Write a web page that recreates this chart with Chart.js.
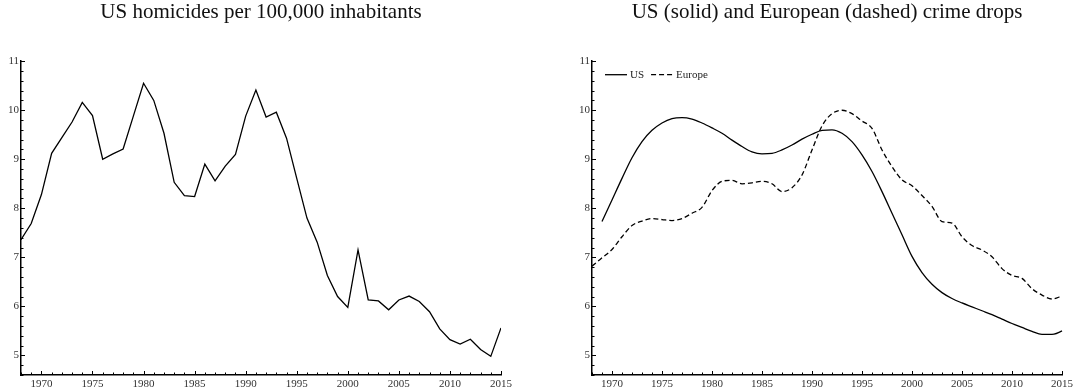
<!DOCTYPE html>
<html>
<head>
<meta charset="utf-8">
<title>US and European homicide trends</title>
<script src="https://cdn.jsdelivr.net/npm/chart.js@4.4.1/dist/chart.umd.min.js"></script>
<style>
  body { margin: 0; background: #fff; }
  #wrap { position: relative; width: 1092px; height: 392px; }
  canvas { position: absolute; top: 0; }
  #left { left: 0; }
  #right { left: 546px; }
</style>
</head>
<body>
<div id="wrap">
  <canvas id="left" width="546" height="392"></canvas>
  <canvas id="right" width="546" height="392"></canvas>
</div>
<script>
// yearly US homicide rate, 1968-2015
var homicideYears = [1968, 1969, 1970, 1971, 1972, 1973, 1974, 1975, 1976, 1977,
  1978, 1979, 1980, 1981, 1982, 1983, 1984, 1985, 1986, 1987,
  1988, 1989, 1990, 1991, 1992, 1993, 1994, 1995, 1996, 1997,
  1998, 1999, 2000, 2001, 2002, 2003, 2004, 2005, 2006, 2007,
  2008, 2009, 2010, 2011, 2012, 2013, 2014, 2015];
var homicideRate = [7.36, 7.69, 8.28, 9.12, 9.44, 9.76, 10.16, 9.89, 9.00, 9.11,
  9.21, 9.88, 10.55, 10.20, 9.53, 8.53, 8.26, 8.24, 8.90, 8.56,
  8.86, 9.10, 9.88, 10.41, 9.86, 9.96, 9.43, 8.61, 7.80, 7.31,
  6.63, 6.20, 5.98, 7.15, 6.13, 6.11, 5.93, 6.13, 6.21, 6.10,
  5.89, 5.54, 5.32, 5.23, 5.33, 5.12, 4.98, 5.56];

// smoothed trends
var usYears = [1969, 1970, 1971, 1972, 1973, 1974, 1975, 1976, 1977, 1978,
  1979, 1980, 1981, 1982, 1983, 1984, 1985, 1986, 1987, 1988,
  1989, 1990, 1991, 1992, 1993, 1994, 1995, 1996, 1997, 1998,
  1999, 2000, 2001, 2002, 2003, 2004, 2005, 2006, 2007, 2008,
  2009, 2010, 2011, 2012, 2013, 2014, 2015, 2016];
var usTrend = [7.73, 8.17, 8.61, 9.03, 9.36, 9.59, 9.74, 9.83, 9.85, 9.82,
  9.74, 9.64, 9.53, 9.39, 9.26, 9.15, 9.11, 9.12, 9.19, 9.29,
  9.41, 9.51, 9.59, 9.60, 9.53, 9.36, 9.09, 8.75, 8.34, 7.90,
  7.46, 7.02, 6.69, 6.45, 6.28, 6.16, 6.07, 5.99, 5.91, 5.83,
  5.74, 5.65, 5.57, 5.49, 5.43, 5.43, 5.50, 5.65];
var europeYears = homicideYears;
var europeTrend = [6.82, 6.99, 7.16, 7.42, 7.65, 7.74, 7.79, 7.77, 7.75, 7.79,
  7.90, 8.02, 8.36, 8.55, 8.57, 8.50, 8.52, 8.55, 8.50, 8.34,
  8.42, 8.68, 9.19, 9.68, 9.93, 10.00, 9.93, 9.78, 9.63, 9.19,
  8.85, 8.58, 8.46, 8.26, 8.04, 7.73, 7.70, 7.42, 7.24, 7.15,
  7.01, 6.77, 6.63, 6.57, 6.36, 6.23, 6.15, 6.21];

var titles = ['US homicides per 100,000 inhabitants', 'US (solid) and European (dashed) crime drops'];

var serif = "'Liberation Serif', 'Times New Roman', serif";

function points(xs, ys) {
  return xs.map(function(x, i) { return {x: x, y: ys[i]}; });
}

// short ticks pointing into the plot: every year and every 0.2
var inwardTicks = {
  id: 'inwardTicks',
  afterDraw: function(chart) {
    var ctx = chart.ctx, area = chart.chartArea;
    var x = chart.scales.x, y = chart.scales.y;
    ctx.save();
    ctx.strokeStyle = '#000';
    ctx.lineWidth = 1;
    ctx.beginPath();
    for (var yr = Math.ceil(x.min); yr <= x.max; yr++) {
      var px = Math.round(x.getPixelForValue(yr)) + 0.5;
      var len = yr % 5 === 0 ? 4 : 2.5;
      ctx.moveTo(px, area.bottom);
      ctx.lineTo(px, area.bottom - len);
    }
    for (var i = Math.ceil(y.min * 5); i <= Math.round(y.max * 5); i++) {
      var py = Math.round(y.getPixelForValue(i / 5)) + 0.5;
      var l = i % 5 === 0 ? 4 : 2.5;
      ctx.moveTo(area.left, py);
      ctx.lineTo(area.left + l, py);
    }
    ctx.stroke();
    ctx.restore();
  }
};

// line legend in the top-left corner of the plot
var lineLegend = {
  id: 'lineLegend',
  afterDraw: function(chart) {
    var ctx = chart.ctx, area = chart.chartArea;
    var x = area.left + 13, y = area.top + 13.5;
    ctx.save();
    ctx.font = '11px ' + serif;
    ctx.textBaseline = 'middle';
    chart.data.datasets.forEach(function(ds) {
      ctx.strokeStyle = ds.borderColor;
      ctx.lineWidth = ds.borderWidth;
      ctx.setLineDash(ds.borderDash || []);
      ctx.beginPath();
      ctx.moveTo(x, y);
      ctx.lineTo(x + 22, y);
      ctx.stroke();
      ctx.setLineDash([]);
      ctx.fillStyle = '#222';
      ctx.fillText(ds.label, x + 25, y);
      x += 25 + ctx.measureText(ds.label).width + 7;
    });
    ctx.restore();
  }
};

function makeOptions(title, padLeft, padRight) {
  return {
    responsive: false,
    animation: false,
    layout: { padding: { left: padLeft, right: padRight, top: 0, bottom: 0 } },
    plugins: {
      legend: { display: false },
      tooltip: { enabled: false },
      title: {
        display: true,
        text: title,
        fullSize: false,
        color: '#111',
        font: { family: serif, size: 21, weight: 'normal' },
        padding: { top: 0, bottom: 36 }
      }
    },
    scales: {
      x: {
        type: 'linear',
        min: 1968,
        max: 2015,
        grid: { display: true, drawOnChartArea: false, drawTicks: false },
        border: { display: true, color: '#000', width: 1.5 },
        ticks: {
          stepSize: 5,
          includeBounds: false,
          autoSkip: false,
          maxRotation: 0,
          padding: 3,
          color: '#333',
          font: { family: serif, size: 11 },
          callback: function(v) { return String(v); }
        },
        afterFit: function(scale) { scale.height = 17; }
      },
      y: {
        type: 'linear',
        min: 4.6,
        max: 11,
        grid: { display: true, drawOnChartArea: false, drawTicks: false },
        border: { display: true, color: '#000', width: 1.5 },
        ticks: {
          stepSize: 1,
          includeBounds: false,
          padding: 2,
          color: '#333',
          font: { family: serif, size: 11 }
        },
        afterFit: function(scale) { scale.width = 21; }
      }
    }
  };
}

new Chart(document.getElementById('left'), {
  type: 'line',
  data: {
    datasets: [{
      label: 'US',
      data: points(homicideYears, homicideRate),
      borderColor: '#000',
      borderWidth: 1.3,
      pointRadius: 0,
      tension: 0
    }]
  },
  options: makeOptions(titles[0], 0, 45),
  plugins: [inwardTicks]
});

new Chart(document.getElementById('right'), {
  type: 'line',
  data: {
    datasets: [{
      label: 'US',
      data: points(usYears, usTrend),
      borderColor: '#000',
      borderWidth: 1.3,
      pointRadius: 0,
      cubicInterpolationMode: 'monotone',
      clip: false
    }, {
      label: 'Europe',
      data: points(europeYears, europeTrend),
      borderColor: '#000',
      borderWidth: 1.3,
      borderDash: [5, 3],
      pointRadius: 0,
      cubicInterpolationMode: 'monotone'
    }]
  },
  options: makeOptions(titles[1], 25, 30),
  plugins: [inwardTicks, lineLegend]
});
</script>
</body>
</html>
